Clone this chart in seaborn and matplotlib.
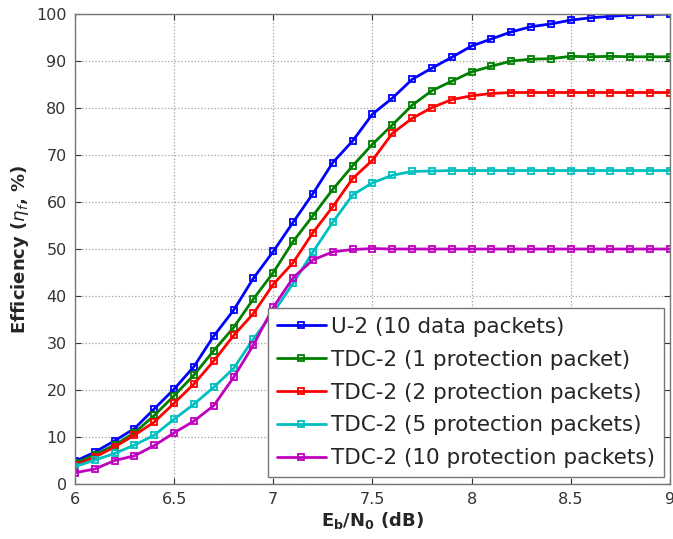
import numpy as np
import pandas as pd
import matplotlib
matplotlib.use('Agg')
import matplotlib.pyplot as plt
import seaborn as sns

# Eb/N0 (dB)
ebn0 = [6.0, 6.1, 6.2, 6.3, 6.4, 6.5, 6.6, 6.7, 6.8, 6.9, 7.0,
        7.1, 7.2, 7.3, 7.4, 7.5, 7.6, 7.7, 7.8, 7.9, 8.0,
        8.1, 8.2, 8.3, 8.4, 8.5, 8.6, 8.7, 8.8, 8.9, 9.0]

u2 = [4.8, 6.8, 9.2, 11.8, 16.0, 20.2, 25.0, 31.5, 37.0, 43.8, 49.5,
      55.7, 61.8, 68.4, 73.0, 78.7, 82.1, 86.1, 88.5, 90.8, 93.2,
      94.7, 96.2, 97.3, 97.9, 98.7, 99.2, 99.5, 99.8, 99.9, 100.0]
tdc_1 = [4.4, 6.2, 8.3, 10.9, 14.6, 18.8, 23.2, 28.4, 33.3, 39.4, 45.0,
         51.6, 57.1, 62.7, 67.7, 72.3, 76.4, 80.6, 83.7, 85.7, 87.7,
         88.9, 90.0, 90.4, 90.5, 91.0, 90.9, 91.0, 90.9, 90.9, 90.9]
tdc_2 = [4.0, 5.7, 7.9, 10.4, 13.2, 17.2, 21.3, 26.2, 31.6, 36.3, 42.5,
         47.1, 53.5, 59.0, 65.0, 68.9, 74.6, 77.8, 80.1, 81.8, 82.6,
         83.1, 83.3, 83.3, 83.3, 83.3, 83.3, 83.3, 83.3, 83.3, 83.3]
tdc_5 = [3.7, 5.1, 6.5, 8.3, 10.4, 13.8, 17.0, 20.6, 24.6, 30.9, 36.5,
         42.7, 49.4, 55.7, 61.5, 64.1, 65.7, 66.5, 66.6, 66.7, 66.7,
         66.7, 66.7, 66.7, 66.7, 66.7, 66.7, 66.7, 66.7, 66.7, 66.7]
tdc_10 = [2.4, 3.2, 5.0, 6.0, 8.2, 10.9, 13.4, 16.7, 22.7, 29.6, 37.6,
          43.9, 47.7, 49.4, 49.9, 50.1, 50.0, 50.0, 50.0, 50.0, 50.0,
          50.0, 50.0, 50.0, 50.0, 50.0, 50.0, 50.0, 50.0, 50.0, 50.0]

labels = ['U-2 (10 data packets)',
          'TDC-2 (1 protection packet)',
          'TDC-2 (2 protection packets)',
          'TDC-2 (5 protection packets)',
          'TDC-2 (10 protection packets)']
colors = ['#0000FF', '#008000', '#FF0000', '#00BFBF', '#BF00BF']

frames = []
for lab, vals in zip(labels, [u2, tdc_1, tdc_2, tdc_5, tdc_10]):
    frames.append(pd.DataFrame({'ebn0': ebn0, 'eff': vals, 'scheme': lab}))
df = pd.concat(frames, ignore_index=True)

sns.set_style('ticks')
plt.rcParams['font.family'] = ['DejaVu Sans']

fig = plt.figure(figsize=(6.73, 5.39), dpi=100)
ax = fig.add_axes([0.1114, 0.102, 0.8841, 0.872])

sns.lineplot(data=df, x='ebn0', y='eff', hue='scheme', hue_order=labels,
             palette=colors, marker='s', markersize=5,
             linewidth=2, dashes=False, ax=ax)

# hollow square markers drawn in the line colour
for ln in ax.lines:
    ln.set_markeredgecolor(ln.get_color())
    ln.set_markerfacecolor('none')
    ln.set_markeredgewidth(1.3)
    ln.set_linestyle('-')

ax.set_xlim(6, 9)
ax.set_ylim(0, 100)
ax.set_xticks([6, 6.5, 7, 7.5, 8, 8.5, 9])
ax.set_xticklabels(['6', '6.5', '7', '7.5', '8', '8.5', '9'])
ax.set_yticks(np.arange(0, 101, 10))
ax.grid(True, linestyle=':', color='#a0a0a0', linewidth=0.9)
ax.tick_params(direction='in', top=True, right=True, labelsize=11.5,
               colors='#333333', length=4, pad=6)
for s in ax.spines.values():
    s.set_color('#777777')
    s.set_linewidth(1)

ax.set_xlabel(r'$\mathbf{E_b/N_0}$ (dB)', fontsize=13, fontweight='bold', labelpad=2)
ax.set_ylabel(r'Efficiency ($\eta_f$, %)', fontsize=13, fontweight='bold', labelpad=4)

leg = ax.legend(loc='lower right', bbox_to_anchor=(0.99, 0.015), fontsize=15.5,
                frameon=True, fancybox=False, framealpha=1, edgecolor='#777777',
                handlelength=2.3, labelspacing=0.6, borderpad=0.4,
                handletextpad=0.25, borderaxespad=0)
leg.get_frame().set_linewidth(1)
for h in leg.get_lines():
    h.set_markeredgecolor(h.get_color())
    h.set_markerfacecolor('none')
    h.set_markeredgewidth(1.3)
    h.set_markersize(4.5)
    h.set_linestyle('-')

fig.savefig('out.png', dpi=100)
